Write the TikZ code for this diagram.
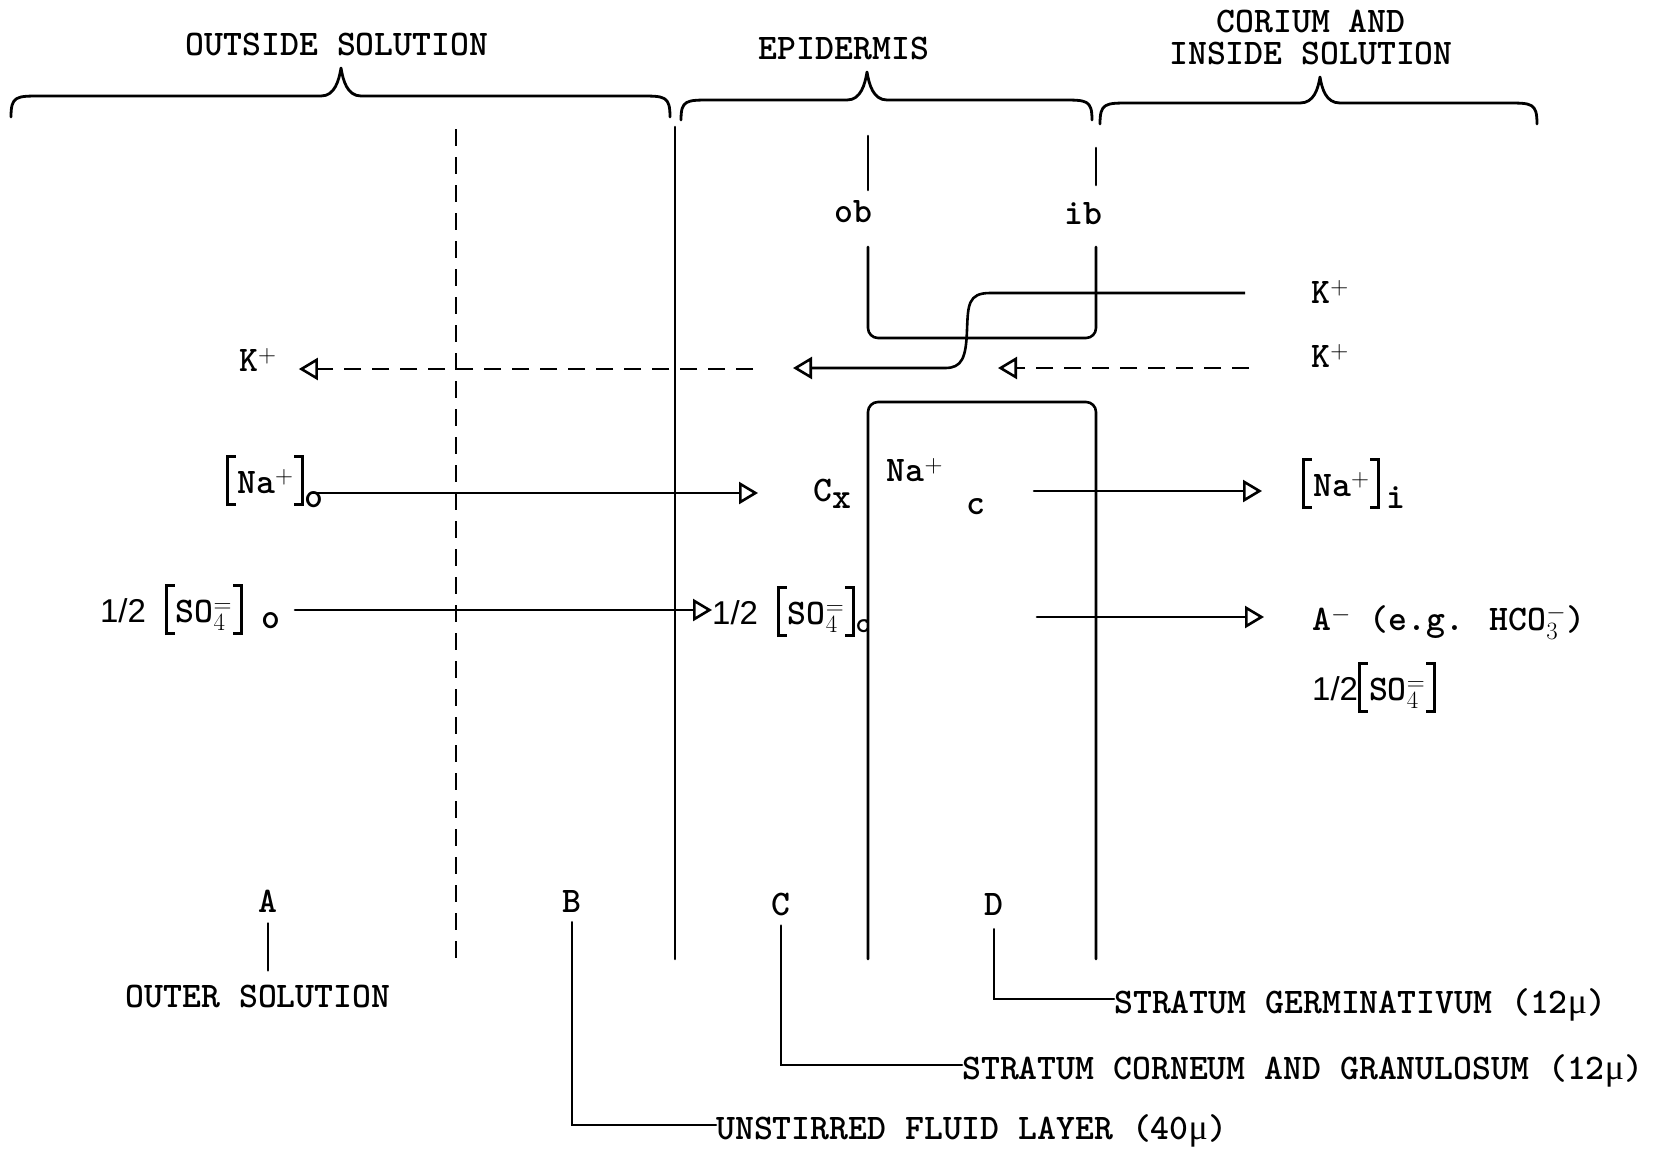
\documentclass[tikz,border=0pt]{standalone}
\usepackage{fontspec}
\newfontfamily\halffont{Liberation Sans}
\newfontfamily\mufont{Liberation Serif}
\usetikzlibrary{arrows.meta,calc}
\newcommand\mkbrace[6]{\draw[brc] (#1,#4) .. controls (#1,#5) and (#1+5,#5) .. (#1+30,#5) -- (#3-20,#5) .. controls (#3-6,#5) and (#3-2,#6+12) .. (#3,#6) .. controls (#3+2,#6+12) and (#3+6,#5) .. (#3+20,#5) -- (#2-30,#5) .. controls (#2-5,#5) and (#2,#5) .. (#2,#4);}
\newcommand\half{{\halffont\mdseries\fontsize{33}{36}\selectfont 1/2}}
\newcommand\mic{{\mufont\mdseries μ}}
\newcommand\lbk{\rule[-13pt]{3pt}{51pt}\hspace{-3pt}\rule[35pt]{10pt}{3pt}\hspace{-10pt}\rule[-13pt]{10pt}{3pt}\hspace{1pt}}
\newcommand\rbk{\hspace{1pt}\rule[35pt]{10pt}{3pt}\hspace{-10pt}\rule[-13pt]{10pt}{3pt}\hspace{-3pt}\rule[-13pt]{3pt}{51pt}}
\begin{document}
\begin{tikzpicture}[x=1pt,y=-1pt,
  txt/.style={font=\ttfamily\bfseries\fontsize{36}{40}\selectfont, inner sep=0pt},
  ln/.style={line width=2.6pt, line cap=round},
  brc/.style={line width=2.8pt, line cap=round, line join=round},
  dsh/.style={line width=2.6pt, dash pattern=on 17pt off 11pt},
  oarrow/.style={-{Triangle[open,length=19pt,width=22pt,line width=2.6pt]}}]
\useasboundingbox (0,0) rectangle (1662,1157);

% headings
\node[txt] (outside) at (337,44) {OUTSIDE SOLUTION};
\node[txt] (epi) at (844,48) {EPIDERMIS};
\node[txt, align=center, font=\ttfamily\bfseries\fontsize{36}{32}\selectfont] (corium) at (1311,37) {CORIUM AND\\INSIDE SOLUTION};

% braces
\mkbrace{11}{670}{341}{117}{96}{68}
\mkbrace{681}{1092}{867}{120}{100}{72}
\mkbrace{1100}{1537}{1320}{124}{103}{77}

% boundary lines
\draw[dsh] (456,129) -- (456,959);
\draw[ln] (675,127) -- (675,959);
\draw[ln] (868,136) -- (868,190);
\draw[ln] (1096,148) -- (1096,185);
\node[txt] (ob) at (853,212) {ob};
\node[txt] (ib) at (1083,214) {ib};
\draw[ln, rounded corners=10pt] (868,247) -- (868,338) -- (1096,338) -- (1096,247);
\draw[ln, rounded corners=10pt] (868,959) -- (868,402) -- (1096,402) -- (1096,959);

% K+ fluxes
\node[txt] (kl) at (258,360) {K$^{+}$};
\node[txt] (kr1) at (1330,292) {K$^{+}$};
\node[txt] (kr2) at (1330,356) {K$^{+}$};
\coordinate (kds) at (753,369);
\coordinate (ksol) at (1245,293);
\coordinate (ktip) at (793,368);
\coordinate (kdr) at (1249,368);
\coordinate (kdrt) at (998,368);
\draw[dsh, oarrow] (kds) -- ($(kds -| kl.east)+(22,0)$);
\draw[line width=2.6pt, line join=round, oarrow] (ksol) -- (990,293) .. controls (968,293) and (968,305) .. (967,330) .. controls (966,358) and (962,368) .. (945,368) -- (ktip);
\draw[dsh, oarrow] (kdr) -- (kdrt);

% Na+ row
\node[txt, anchor=base west] (nao) at (226,493) {\lbk Na$^{+}$\rbk\raisebox{-14pt}{o}};
\node[txt] (cx) at (833,494) {C$_{\mbox{x}}$};
\node[txt] (nac) at (915,470) {Na$^{+}$};
\node[txt] (cc) at (976,507) {c};
\node[txt, anchor=base west] (nai) at (1302,496) {\lbk Na$^{+}$\rbk\,\raisebox{-12pt}{i}};
\coordinate (natip) at (758,493);
\coordinate (nas) at (1034,491);
\draw[ln, oarrow] ($(nao.east |- natip)+(-12,0)$) -- (natip);
\draw[ln, oarrow] (nas) -- ($(nas -| nai.west)+(-40,0)$);

% SO4 row
\node[txt, anchor=base east] (soo) at (281,622) {\half\ \lbk SO$_{4}^{=}$\rbk\ \raisebox{-6pt}{o}};
\node[txt, anchor=base west] (soc) at (712,624) {\half\ \lbk SO$_{4}^{=}$\rbk\raisebox{-8pt}{\fontsize{29}{30}\selectfont c}};
\coordinate (sos) at (295,610);
\coordinate (ans) at (1037,617);
\draw[ln, oarrow] (sos) -- (sos -| soc.west);
\node[txt, anchor=west] (am) at (1312,622) {A$^{-}$ (e.g. HCO$_{3}^{-}$)};
\node[txt, anchor=base west] (so2) at (1312,700) {\half\lbk SO$_{4}^{=}$\rbk};
\draw[ln, oarrow] (ans) -- ($(ans -| am.west)+(-48,0)$);

% bottom labels
\node[txt] (A) at (268,901) {A};
\node[txt] (outer) at (258,996) {OUTER SOLUTION};
\node[txt] (B) at (572,901) {B};
\node[txt] (C) at (781,904) {C};
\node[txt] (D) at (994,904) {D};
\node[txt, anchor=west] (unst) at (716,1131) {UNSTIRRED FLUID LAYER (40\mic)};
\node[txt, anchor=west] (corn) at (962,1071) {STRATUM CORNEUM AND GRANULOSUM (12\mic)};
\node[txt, anchor=west] (germ) at (1114,1005) {STRATUM GERMINATIVUM (12\mic)};
\draw[ln] ([yshift=-11pt]A.south) -- ([yshift=14pt]A.south |- outer.north);
\draw[ln] ([yshift=-10pt]B.south) |- ([yshift=6pt]unst.west);
\draw[ln] ([yshift=-10pt]C.south) |- ([yshift=6pt]corn.west);
\draw[ln] ([yshift=-14pt]D.south) |- ([yshift=6pt]germ.west);
\end{tikzpicture}
\end{document}
